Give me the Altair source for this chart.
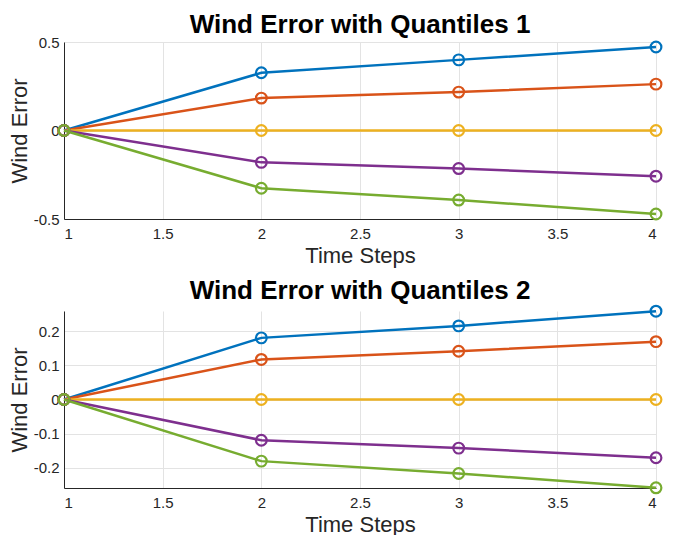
import altair as alt
import pandas as pd

steps = [1, 2, 3, 4]
series = ["s1", "s2", "s3", "s4", "s5"]
colors = ["#0072BD", "#D95319", "#EDB120", "#7E2F8E", "#77AC30"]

top_s1 = [0.0, 0.326, 0.399, 0.472]
top_s2 = [0.0, 0.183, 0.217, 0.262]
top_s3 = [0.0, 0.0, 0.0, 0.0]
top_s4 = [0.0, -0.180, -0.215, -0.258]
top_s5 = [0.0, -0.326, -0.393, -0.472]

bot_s1 = [0.0, 0.180, 0.215, 0.258]
bot_s2 = [0.0, 0.117, 0.141, 0.169]
bot_s3 = [0.0, 0.0, 0.0, 0.0]
bot_s4 = [0.0, -0.119, -0.142, -0.170]
bot_s5 = [0.0, -0.180, -0.216, -0.258]

x_ticks = [1, 1.5, 2, 2.5, 3, 3.5, 4]
top_y_ticks = [-0.5, 0, 0.5]
bot_y_ticks = [-0.2, -0.1, 0, 0.1, 0.2]


def make_df(arrs):
    rows = []
    for name, vals in zip(series, arrs):
        for s, v in zip(steps, vals):
            rows.append({"step": s, "err": v, "series": name})
    return pd.DataFrame(rows)


FONT = "Liberation Sans"
AX = "#262626"


def panel(df, title, ydomain, yticks, height):
    x = alt.X("step:Q",
              scale=alt.Scale(domain=[1, 4], nice=False, zero=False),
              axis=alt.Axis(values=x_ticks, format="~g", title="Time Steps",
                            grid=True, ticks=False, labelPadding=7,
                            titlePadding=4))
    y = alt.Y("err:Q",
              scale=alt.Scale(domain=ydomain, nice=False, zero=False),
              axis=alt.Axis(values=yticks, format="~g", title="Wind Error",
                            grid=True, ticks=False, labelPadding=5,
                            titlePadding=2, minExtent=26,
                            labelExpr="replace(datum.label, '\u2212', '-')"))
    color = alt.Color("series:N",
                      scale=alt.Scale(domain=series, range=colors),
                      legend=None)
    base = alt.Chart(df).encode(x=x, y=y, color=color)
    lines = base.mark_line(strokeWidth=2.5, clip=False)
    pts = base.mark_point(shape="circle", filled=False, size=115,
                          strokeWidth=2.2, opacity=1, clip=False)
    return alt.layer(lines, pts).properties(
        width=592, height=height,
        title=alt.TitleParams(title, fontSize=26, fontWeight="bold",
                              font=FONT, color="#000000", offset=-3,
                              frame="group", anchor="middle"))


top = panel(make_df([top_s1, top_s2, top_s3, top_s4, top_s5]),
            "Wind Error with Quantiles 1", [-0.5, 0.5], top_y_ticks, 177)
bot = panel(make_df([bot_s1, bot_s2, bot_s3, bot_s4, bot_s5]),
            "Wind Error with Quantiles 2", [-0.2585, 0.2585], bot_y_ticks, 177)

chart = alt.vconcat(
    top, bot, spacing=12,
    padding={"left": 0, "top": 4, "right": 0, "bottom": 0},
).configure_view(
    stroke=None
).configure_axis(
    labelFont=FONT, titleFont=FONT, labelFontSize=15, titleFontSize=22,
    labelColor=AX, titleColor=AX, titleFontWeight="normal",
    domainColor=AX, domainWidth=1, gridColor="#e3e3e3", gridWidth=1,
)

chart.save("out.html", embed_options={"renderer": "svg", "actions": False})
